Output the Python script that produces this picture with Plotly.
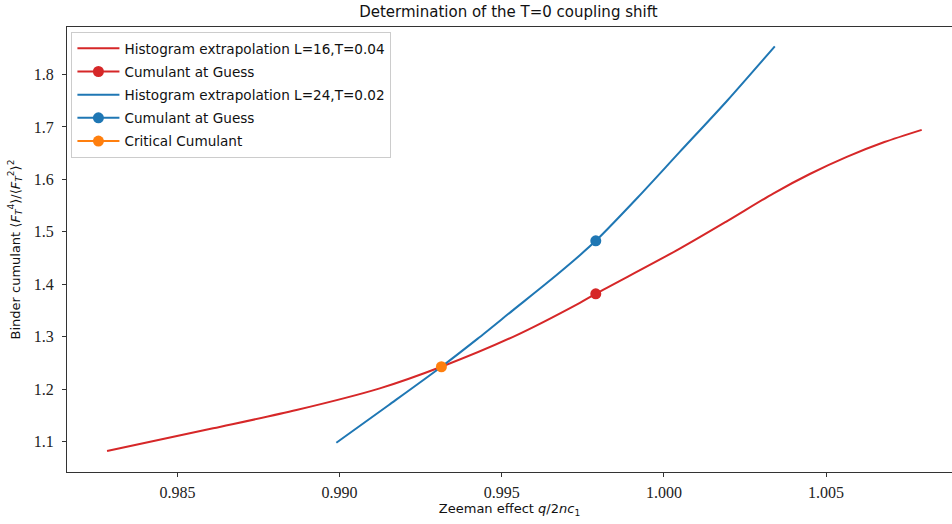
import plotly.graph_objects as go

# Data
red_x = [0.98283, 0.98610, 0.98867, 0.99124, 0.99314, 0.99535, 0.99741, 0.99790, 1.00049, 1.00195, 1.00337, 1.00450, 1.00564, 1.00680, 1.00795]
red_y = [1.0823, 1.1255, 1.1604, 1.2017, 1.2429, 1.3000, 1.3648, 1.3820, 1.4680, 1.5205, 1.5731, 1.6103, 1.6430, 1.6712, 1.6945]

blue_x = [0.98990, 0.99152, 0.99314, 0.99425, 0.99535, 0.99638, 0.99741, 0.99790, 0.99920, 1.00049, 1.00195, 1.00342]
blue_y = [1.0981, 1.1700, 1.2429, 1.2960, 1.3509, 1.4020, 1.4556, 1.4829, 1.5660, 1.6524, 1.7500, 1.8537]

guess_x = [0.99790]
red_guess_y = [1.3820]
blue_guess_y = [1.4829]

crit_x = [0.99314]
crit_y = [1.2429]

RED = "#d62728"
BLUE = "#1f77b4"
ORANGE = "#ff7f0e"

fig = go.Figure()
fig.add_trace(go.Scatter(x=red_x, y=red_y, mode="lines", line=dict(color=RED, width=2, shape="spline", smoothing=0.8),
                         name="Histogram extrapolation L=16,T=0.04", legendgroup="a"))
fig.add_trace(go.Scatter(x=guess_x, y=red_guess_y, mode="lines+markers", line=dict(color=RED, width=2),
                         marker=dict(color=RED, size=11), name="Cumulant at Guess", legendgroup="b"))
fig.add_trace(go.Scatter(x=blue_x, y=blue_y, mode="lines", line=dict(color=BLUE, width=2, shape="spline", smoothing=0.8),
                         name="Histogram extrapolation L=24,T=0.02", legendgroup="c"))
fig.add_trace(go.Scatter(x=guess_x, y=blue_guess_y, mode="lines+markers", line=dict(color=BLUE, width=2),
                         marker=dict(color=BLUE, size=11), name="Cumulant at Guess", legendgroup="d"))
fig.add_trace(go.Scatter(x=crit_x, y=crit_y, mode="lines+markers", line=dict(color=ORANGE, width=2),
                         marker=dict(color=ORANGE, size=11), name="Critical Cumulant", legendgroup="e"))

tickfont = dict(family="Liberation Serif", size=16, color="#222")
fig.update_layout(
    width=952, height=524,
    margin=dict(l=67, r=0, t=27, b=52),
    paper_bgcolor="white", plot_bgcolor="white",
    font=dict(family="DejaVu Sans", size=13, color="#111"),
    title=dict(text="Determination of the T=0 coupling shift", x=0.534, xref="container",
               y=1 - 12 / 524, yref="container", xanchor="center", yanchor="middle",
               font=dict(family="DejaVu Sans", size=15, color="#111")),
    showlegend=True,
    legend=dict(x=0.005, y=0.9888, xanchor="left", yanchor="top",
                bgcolor="rgba(255,255,255,0.85)", bordercolor="#cccccc", borderwidth=1,
                font=dict(family="DejaVu Sans", size=13.6, color="#111"),
                traceorder="grouped", tracegroupgap=2.5, itemwidth=42),
    xaxis=dict(range=[0.981595, 1.008884], showgrid=False, zeroline=False, automargin=False,
               showline=True, linecolor="#333", linewidth=1.2, mirror=True,
               ticks="outside", ticklen=4, tickcolor="#333", ticklabelstandoff=2,
               tickvals=[0.985, 0.990, 0.995, 1.000, 1.005],
               ticktext=["0.985", "0.990", "0.995", "1.000", "1.005"],
               tickfont=tickfont,
               title=dict(text="Zeeman effect <i>q</i>/2<i>nc</i><sub>1</sub>", standoff=2,
                          font=dict(family="DejaVu Sans", size=13, color="#111"))),
    yaxis=dict(range=[1.0423, 1.8905], showgrid=False, zeroline=False, automargin=False,
               showline=True, linecolor="#333", linewidth=1.2, mirror=False,
               ticks="outside", ticklen=4, tickcolor="#333", ticklabelstandoff=5,
               tickvals=[1.1, 1.2, 1.3, 1.4, 1.5, 1.6, 1.7, 1.8],
               ticktext=["1.1", "1.2", "1.3", "1.4", "1.5", "1.6", "1.7", "1.8"],
               tickfont=tickfont,
               title=dict(text="Binder cumulant ⟨<i>F</i><sub><i>T</i></sub><sup>4</sup>⟩/⟨<i>F</i><sub><i>T</i></sub><sup>2</sup>⟩<sup>2</sup>",
                          standoff=10, font=dict(family="DejaVu Sans", size=13, color="#111"))),
)

fig.write_html("out.html", config={"displayModeBar": False},
               post_script="document.body.style.margin='0';document.body.style.overflow='hidden';")
